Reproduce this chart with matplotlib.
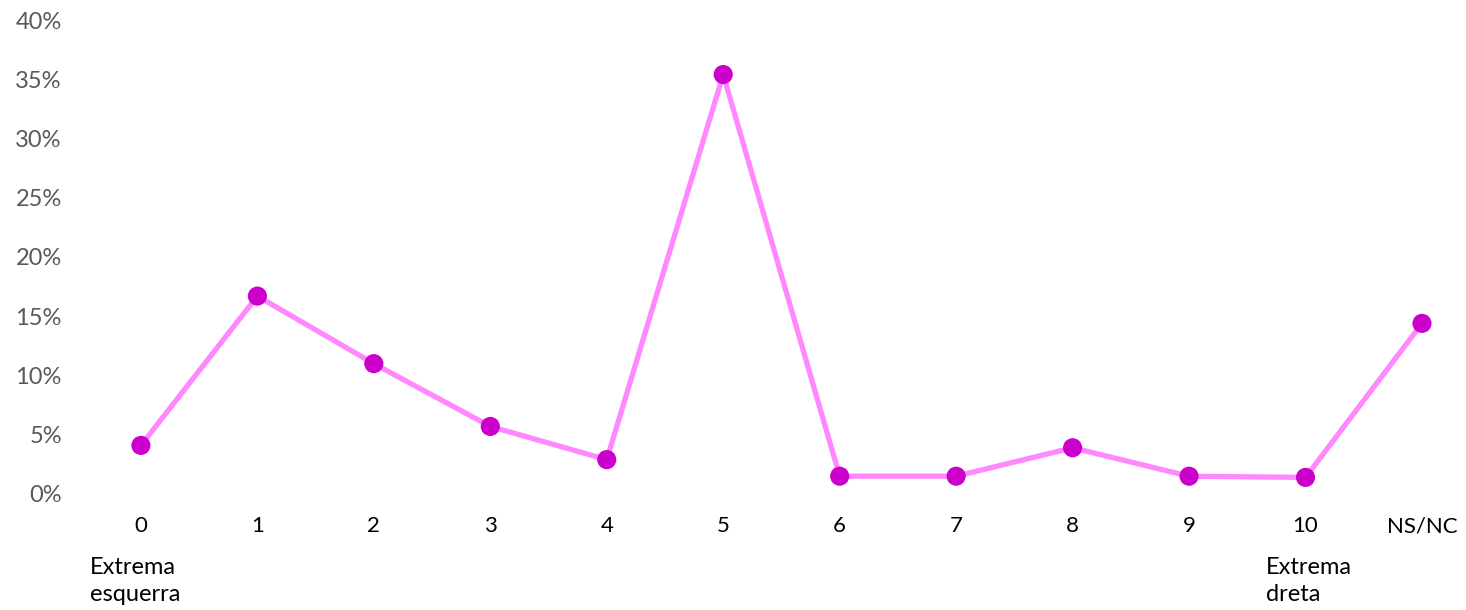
import matplotlib
matplotlib.use("Agg")
import matplotlib.pyplot as plt
from matplotlib.ticker import PercentFormatter

plt.rcParams["font.family"] = ["Lato", "DejaVu Sans"]

# escala 0-10 + NS/NC
categories = ["0", "1", "2", "3", "4", "5", "6", "7", "8", "9", "10", "NS/NC"]
values = [4.1, 16.7, 11.0, 5.7, 2.9, 35.4, 1.5, 1.5, 3.9, 1.5, 1.4, 14.4]
y_ticks = [0, 5, 10, 15, 20, 25, 30, 35, 40]

LINE_COLOR = "#ff88ff"
MARKER_COLOR = "#cc00cc"

fig = plt.figure(figsize=(14.66, 6.10), dpi=100)
ax = fig.add_axes([0.0564, 0.1902, 0.9374, 0.777])

xs = list(range(len(categories)))
ax.plot(xs, values, color=LINE_COLOR, lw=3.8, zorder=2, solid_capstyle="round")
ax.scatter(xs, values, s=190, color=MARKER_COLOR, zorder=3, clip_on=False, edgecolors="none")

ax.set_xlim(-0.5, 11.3)
ax.set_ylim(0, 40)
ax.set_xticks(xs)
ax.set_xticklabels(categories)
ax.set_yticks(y_ticks)
ax.yaxis.set_major_formatter(PercentFormatter(decimals=0))
ax.tick_params(axis="x", length=0, pad=16, labelsize=16, labelcolor="black")
ax.tick_params(axis="y", length=0, pad=15, labelsize=17, labelcolor="#595959")
for s in ax.spines.values():
    s.set_visible(False)

# etiquetes dels extrems sota l'eix
ax.annotate("Extrema\nesquerra", xy=(0, 0), xycoords=("data", "axes fraction"),
            xytext=(-51, -63), textcoords="offset pixels", ha="left", va="top",
            fontsize=17, linespacing=1.35)
ax.annotate("Extrema\ndreta", xy=(10, 0), xycoords=("data", "axes fraction"),
            xytext=(-40, -63), textcoords="offset pixels", ha="left", va="top",
            fontsize=17, linespacing=1.35)

fig.savefig("out.png", dpi=100)
